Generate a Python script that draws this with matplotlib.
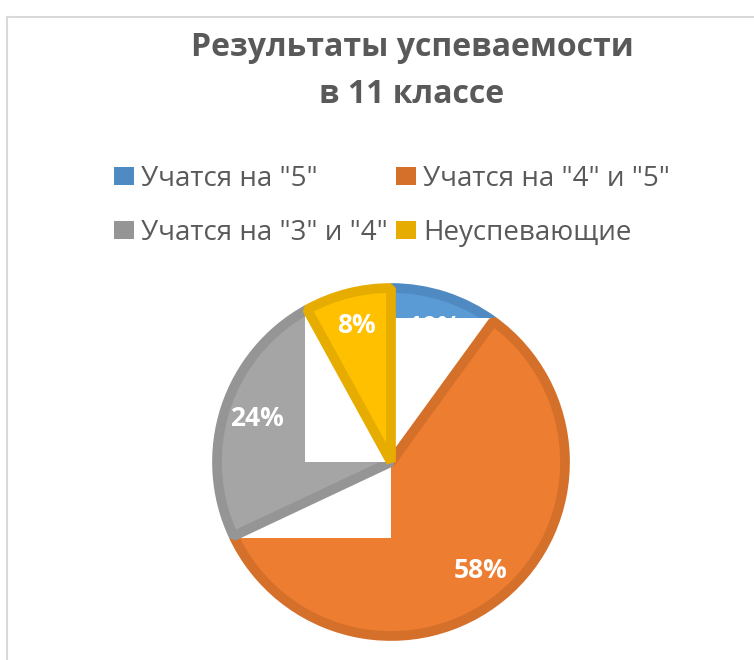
import matplotlib
matplotlib.use('Agg')
import matplotlib.pyplot as plt
from matplotlib.patches import Rectangle, Patch
import numpy as np

# Данные
labels = ['Учатся на "5"', 'Учатся на "4" и "5"', 'Учатся на "3" и "4"', 'Неуспевающие']
values = [10, 58, 24, 8]
colors = ['#5B9BD5', '#ED7D31', '#A5A5A5', '#FFC000']
edges = ['#4F8AC3', '#D5702B', '#959595', '#E6AD00']
title = 'Результаты успеваемости\nв 11 классе'

plt.rcParams['font.family'] = ['Open Sans', 'DejaVu Sans']

W, H = 754, 660
fig = plt.figure(figsize=(W / 100, H / 100), dpi=100)

# рамка области диаграммы
fig.add_artist(plt.Line2D([7 / W, 1], [1 - 17 / H, 1 - 17 / H], color='#D9D9D9', lw=1.5))
fig.add_artist(plt.Line2D([7 / W, 7 / W], [0, 1 - 17 / H], color='#D9D9D9', lw=1.5))

# оси под круг: центр (391, 462) px, радиус ~174 px
cx, cy, half = 391, 462, 200
ax = fig.add_axes([(cx - half) / W, (H - cy - half) / H, 2 * half / W, 2 * half / H])

wedges, texts, autotexts = ax.pie(
    values, colors=colors, startangle=90, counterclock=False,
    autopct='%1.0f%%', pctdistance=0.81, radius=1,
    wedgeprops=dict(linewidth=7, joinstyle='bevel'),
    textprops=dict(color='white', fontsize=19, fontweight='bold'))

L = half / 174
ax.set_xlim(-L, L)
ax.set_ylim(-L, L)
ax.axis('off')

# порядок отрисовки как в исходнике: сектор, затем белый прямоугольник
# от центра до вершины на его конце, затем следующий сектор
r_out = 1.025
for k, (w, ec, t) in enumerate(zip(wedges, edges, autotexts)):
    w.set_edgecolor(ec)
    w.set_zorder(2 * k + 1)
    t.set_zorder(2 * k + 1.5)
    th = np.deg2rad(w.theta1)  # конец сектора при обходе по часовой
    x, y = np.cos(th) * r_out, np.sin(th) * r_out
    ax.add_patch(Rectangle((min(0, x), min(0, y)), abs(x), abs(y),
                           facecolor='white', edgecolor='none', zorder=2 * k + 2))

fig.text(412 / W, 1 - 71 / H, title, ha='center', va='center', fontsize=23,
         fontweight='bold', color='#595959', linespacing=1.55)

# легенда по строкам (ncol=2 заполняет по столбцам, поэтому переставляем)
handles = [Patch(facecolor=ec, edgecolor='none') for ec in edges]
idx = [0, 2, 1, 3]
fig.legend([handles[i] for i in idx], [labels[i] for i in idx], ncol=2, loc='center',
           bbox_to_anchor=(392 / W, 1 - 206 / H),
           frameon=False, fontsize=20, labelcolor='#595959', handlelength=0.72,
           handleheight=0.62, handletextpad=0.25, columnspacing=0.3, labelspacing=0.95)

fig.savefig('out.png', dpi=100)
